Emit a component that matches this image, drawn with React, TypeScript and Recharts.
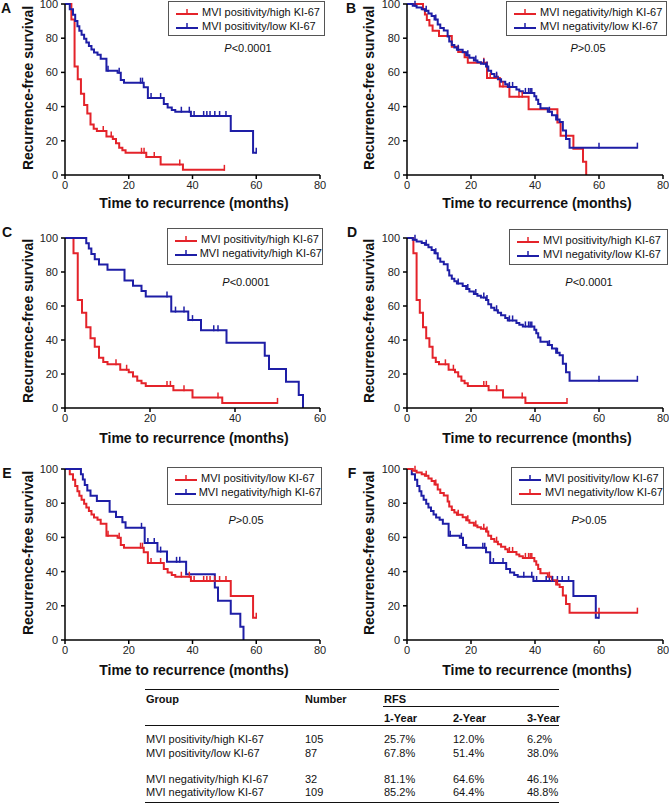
import React from 'react';
import { LineChart, Line, XAxis, YAxis } from 'recharts';

// ---------- DATA ----------
// MVI positivity / high KI-67
const PH_T = [0, 2, 3, 4, 5, 6, 7, 8, 9, 10, 13, 15, 16, 17, 18, 19, 25.5, 30, 37, 50];
const PH_S = [100, 91, 63.5, 56, 47.5, 41, 36, 29.5, 27, 25.7, 22.5, 21, 18.5, 16, 14.5, 13, 10.5, 6.2, 3, 3];
const PH_C = [12, 14.5, 24, 24.8, 28, 36, 50];

// MVI positivity / low KI-67
const PL_T = [0, 1.5, 2.5, 3.2, 3.9, 4.5, 5.2, 6, 6.7, 7.5, 8.3, 9.1, 10.2, 11.2, 13, 16.5, 17.5, 18.5, 24.7, 26, 31, 32.2, 33.5, 34.6, 39.5, 52, 59, 60];
const PL_S = [100, 97, 93.7, 90, 87, 84.4, 82, 79.7, 77.5, 75.4, 73.4, 71.7, 70.3, 68, 61, 59.8, 55.5, 54, 51.3, 45, 41.5, 39.5, 38, 37, 34.5, 25.8, 13, 13];
const PL_C = [13.5, 17, 23.7, 24.3, 27, 30, 36.5, 39, 40.5, 43.5, 44.5, 45.5, 47, 48.5, 50.5, 60];

// MVI negativity / high KI-67
const NH_T = [0, 5, 5.6, 6.2, 7, 8, 10, 14, 16, 18, 19, 25, 29, 32, 38, 47, 48, 52, 55, 56];
const NH_S = [100, 96.9, 93.8, 90.6, 87.5, 84.4, 81.3, 75, 71.9, 68.8, 65.6, 56.7, 51.7, 45.7, 38.4, 30.7, 23, 15.4, 7.7, 0];
const NH_C = [24, 26, 28, 30, 35, 36];

// MVI negativity / low KI-67
const NL_T = [0, 1.8, 3, 4.6, 5.6, 6.7, 7.7, 8.6, 9.6, 10.4, 11.5, 12.7, 13.2, 14, 14.8, 15.6, 17.4, 18.5, 19.5, 20.9, 22, 23.1, 24.7, 25.4, 26.3, 27.3, 28.4, 29.4, 30.7, 31.5, 34.2, 35.1, 36.2, 39.8, 40.4, 41, 41.7, 44, 45.3, 46.6, 47.7, 48.7, 49.7, 50.8, 72];
const NL_S = [100, 99, 98, 97, 96, 94.5, 93, 91, 88, 86, 84.5, 81, 78, 76, 74.6, 73.2, 71.8, 70, 68.5, 67, 66, 65, 63.5, 61, 59, 57.5, 56, 54.5, 53, 51.5, 50, 49, 48, 46, 44, 41.5, 39, 37, 35, 32.5, 31, 26, 21, 16, 16];
const NL_C = [2.5, 6, 9, 16, 19, 21.5, 24, 25, 28, 32, 33, 37, 38, 38.5, 39, 44.5, 47, 60, 72];

const GROUP_LABELS = {
  PH: 'MVI positivity/high KI-67',
  PL: 'MVI positivity/low KI-67',
  NH: 'MVI negativity/high KI-67',
  NL: 'MVI negativity/low KI-67',
};

const Y_TICKS = [0, 20, 40, 60, 80, 100];
const X_TICKS_80 = [0, 20, 40, 60, 80];
const X_TICKS_60 = [0, 20, 40, 60];

// table
const TABLE_GROUPS = ['MVI positivity/high KI-67', 'MVI positivity/low KI-67', 'MVI negativity/high KI-67', 'MVI negativity/low KI-67'];
const TABLE_N = ['105', '87', '32', '109'];
const RFS_1Y = ['25.7%', '67.8%', '81.1%', '85.2%'];
const RFS_2Y = ['12.0%', '51.4%', '64.6%', '64.4%'];
const RFS_3Y = ['6.2%', '38.0%', '46.1%', '48.8%'];

// ---------- BUILD ----------
type Pt = { t: number; s: number; c: boolean };
function buildCurve(T: number[], S: number[], C: number[]): Pt[] {
  const pts: Pt[] = T.map((t, i) => ({ t, s: S[i], c: false }));
  C.forEach((ct) => {
    const ex = pts.find((p) => p.t === ct);
    if (ex) { ex.c = true; return; }
    let lvl = S[0];
    for (let i = 0; i < T.length; i++) if (T[i] <= ct) lvl = S[i];
    pts.push({ t: ct, s: lvl, c: true });
  });
  pts.sort((a, b) => a.t - b.t);
  return pts;
}

const CURVES: Record<string, Pt[]> = {
  PH: buildCurve(PH_T, PH_S, PH_C),
  PL: buildCurve(PL_T, PL_S, PL_C),
  NH: buildCurve(NH_T, NH_S, NH_C),
  NL: buildCurve(NL_T, NL_S, NL_C),
};

// ---------- STYLE / LAYOUT ----------
const RED = '#e4232a';
const BLUE = '#1e1ea6';
const FONT = '"Liberation Sans", Arial, Helvetica, sans-serif';

type Panel = {
  letter: string; left: number; letterPos: [number, number];
  plot: { x0: number; x1: number; y0: number; y1: number };
  xMax: number; series: { key: string; color: string }[];
  p: string; pPos: [number, number];
  legend: { left: number; top: number; w: number; h: number };
  ylabX: number; titleY: number; titleX: number;
};

const PANELS: Panel[] = [
  { letter: 'A', left: 0, letterPos: [6, 8], plot: { x0: 65, x1: 320, y0: 4, y1: 175 }, xMax: 80,
    series: [{ key: 'PH', color: RED }, { key: 'PL', color: BLUE }], p: '<0.0001', pPos: [248, 48],
    legend: { left: 168, top: 1, w: 157, h: 35 }, ylabX: 28, titleY: 203, titleX: 194 },
  { letter: 'B', left: 335, letterPos: [351, 8], plot: { x0: 407, x1: 663, y0: 4, y1: 175 }, xMax: 80,
    series: [{ key: 'NH', color: RED }, { key: 'NL', color: BLUE }], p: '>0.05', pPos: [588, 48],
    legend: { left: 506, top: 1, w: 161, h: 35 }, ylabX: 369, titleY: 203, titleX: 537 },
  { letter: 'C', left: 0, letterPos: [7, 232], plot: { x0: 65, x1: 320, y0: 238, y1: 408 }, xMax: 60,
    series: [{ key: 'PH', color: RED }, { key: 'NH', color: BLUE }], p: '<0.0001', pPos: [246, 282],
    legend: { left: 167, top: 228, w: 156, h: 37 }, ylabX: 28, titleY: 438, titleX: 194 },
  { letter: 'D', left: 335, letterPos: [352, 232], plot: { x0: 407, x1: 663, y0: 238, y1: 408 }, xMax: 80,
    series: [{ key: 'PH', color: RED }, { key: 'NL', color: BLUE }], p: '<0.0001', pPos: [589, 282],
    legend: { left: 509, top: 229, w: 159, h: 36 }, ylabX: 369, titleY: 438, titleX: 537 },
  { letter: 'E', left: 0, letterPos: [7, 473], plot: { x0: 65, x1: 320, y0: 469, y1: 640 }, xMax: 80,
    series: [{ key: 'PL', color: RED }, { key: 'NH', color: BLUE }], p: '>0.05', pPos: [246, 520],
    legend: { left: 167, top: 467, w: 155, h: 38 }, ylabX: 28, titleY: 670, titleX: 194 },
  { letter: 'F', left: 335, letterPos: [352, 473], plot: { x0: 407, x1: 663, y0: 469, y1: 640 }, xMax: 80,
    series: [{ key: 'PL', color: BLUE }, { key: 'NL', color: RED }], p: '>0.05', pPos: [589, 520],
    legend: { left: 511, top: 467, w: 153, h: 38 }, ylabX: 369, titleY: 670, titleX: 537 },
];

const censorDot = (color: string) => (props: any) => {
  const { cx, cy, payload, index } = props;
  if (!payload || !payload.c || cx == null || cy == null) return <g key={`n${index}`} />;
  return <line key={`c${index}`} x1={cx} x2={cx} y1={cy - 5} y2={cy + 1} stroke={color} strokeWidth={1.5} />;
};

const axisStyle = { stroke: '#000', strokeWidth: 1.5 };
const tickStyle = { fontSize: 11, fill: '#222', fontFamily: FONT };

function PanelChart({ p }: { p: Panel }) {
  const YW = 30;
  const top = p.plot.y0 - 10;
  const width = p.plot.x1 + 12 - p.left;
  const height = p.plot.y1 - p.plot.y0 + 10 + 30;
  return (
    <div style={{ position: 'absolute', left: p.left, top, width, height }}>
      <LineChart width={width} height={height}
        margin={{ top: 10, right: 12, left: p.plot.x0 - p.left - YW, bottom: 10 }}
        style={{ overflow: 'visible' }}>
        <XAxis type="number" dataKey="t" domain={[0, p.xMax]} ticks={p.xMax === 60 ? X_TICKS_60 : X_TICKS_80}
          interval={0} height={20} tickSize={4} tickMargin={2}
          axisLine={axisStyle} tickLine={axisStyle} tick={tickStyle} allowDuplicatedCategory={false} />
        <YAxis type="number" domain={[0, 100]} ticks={Y_TICKS} interval={0} width={YW} tickSize={4} tickMargin={3}
          axisLine={axisStyle} tickLine={axisStyle} tick={tickStyle} />
        {p.series.map((s) => (
          <Line key={s.key} data={CURVES[s.key]} dataKey="s" type="stepAfter" stroke={s.color} strokeWidth={2}
            dot={censorDot(s.color)} activeDot={false} isAnimationActive={false} />
        ))}
      </LineChart>
    </div>
  );
}

function LegendBox({ p }: { p: Panel }) {
  return (
    <div style={{ position: 'absolute', left: p.legend.left, top: p.legend.top, width: p.legend.w, height: p.legend.h,
      border: '1px solid #555', background: '#fff', boxSizing: 'border-box', padding: '3px 0 0 6px', fontFamily: FONT,
      fontSize: 11, color: '#111' }}>
      {p.series.map((s) => (
        <div key={s.key} style={{ display: 'flex', alignItems: 'center', height: 14 }}>
          <svg width={24} height={10} style={{ marginRight: 3 }}>
            <line x1={1} x2={23} y1={7} y2={7} stroke={s.color} strokeWidth={2} />
            <line x1={12} x2={12} y1={2} y2={7} stroke={s.color} strokeWidth={1.5} />
          </svg>
          <span style={{ whiteSpace: 'nowrap' }}>{GROUP_LABELS[s.key as keyof typeof GROUP_LABELS]}</span>
        </div>
      ))}
    </div>
  );
}

function Txt({ x, y, children, bold, align = 'left', size = 11 }: any) {
  const tx = align === 'center' ? 'translate(-50%, -50%)' : 'translate(0, -50%)';
  return (
    <div style={{ position: 'absolute', left: x, top: y, transform: tx, whiteSpace: 'nowrap', fontFamily: FONT,
      fontSize: size, fontWeight: bold ? 'bold' : 'normal', color: '#111', lineHeight: 1 }}>{children}</div>
  );
}

function HLine({ x0, x1, y }: { x0: number; x1: number; y: number }) {
  return <div style={{ position: 'absolute', left: x0, top: y, width: x1 - x0, height: 1, background: '#111' }} />;
}

const COLS = [146, 305, 384, 453, 527];
const ROW_Y = [739, 752.5, 778.5, 792];

export default function App() {
  return (
    <div style={{ position: 'absolute', left: 0, top: 0, width: 669, height: 804, background: '#fff', overflow: 'hidden' }}>
      {PANELS.map((p) => (
        <React.Fragment key={p.letter}>
          <PanelChart p={p} />
          <Txt x={p.letterPos[0]} y={p.letterPos[1]} bold size={14} align="center">{p.letter}</Txt>
          <LegendBox p={p} />
          <Txt x={p.pPos[0]} y={p.pPos[1]} align="center"><i>P</i>{p.p}</Txt>
          <div style={{ position: 'absolute', left: p.ylabX, top: (p.plot.y0 + p.plot.y1) / 2 - 2,
            transform: 'translate(-50%, -50%) rotate(-90deg)', whiteSpace: 'nowrap', fontFamily: FONT,
            fontSize: 14, fontWeight: 'bold', color: '#111', lineHeight: 1 }}>Recurrence-free survival</div>
          <Txt x={p.titleX} y={p.titleY} bold size={14} align="center">Time to recurrence (months)</Txt>
        </React.Fragment>
      ))}
      {/* table */}
      <HLine x0={145} x1={559} y={689} />
      <Txt x={COLS[0]} y={699} bold>Group</Txt>
      <Txt x={COLS[1]} y={699} bold>Number</Txt>
      <Txt x={COLS[2]} y={699} bold>RFS</Txt>
      <HLine x0={383} x1={559} y={706} />
      <Txt x={COLS[2]} y={718} bold>1-Year</Txt>
      <Txt x={COLS[3]} y={718} bold>2-Year</Txt>
      <Txt x={COLS[4]} y={718} bold>3-Year</Txt>
      <HLine x0={145} x1={559} y={725} />
      {TABLE_GROUPS.map((g, i) => (
        <React.Fragment key={g}>
          <Txt x={COLS[0]} y={ROW_Y[i]}>{g}</Txt>
          <Txt x={COLS[1]} y={ROW_Y[i]}>{TABLE_N[i]}</Txt>
          <Txt x={COLS[2]} y={ROW_Y[i]}>{RFS_1Y[i]}</Txt>
          <Txt x={COLS[3]} y={ROW_Y[i]}>{RFS_2Y[i]}</Txt>
          <Txt x={COLS[4]} y={ROW_Y[i]}>{RFS_3Y[i]}</Txt>
        </React.Fragment>
      ))}
      <HLine x0={145} x1={559} y={802} />
    </div>
  );
}
